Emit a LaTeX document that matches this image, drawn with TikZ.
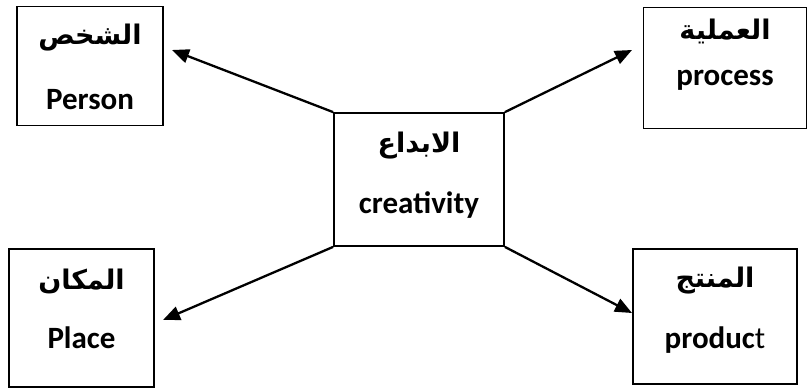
\documentclass[tikz,border=0pt]{standalone}
\usepackage{fontspec}
\setmainfont{Carlito}
\newfontfamily\arabicfont[Script=Arabic]{DejaVu Sans}
\TeXXeTstate=1
\usetikzlibrary{arrows.meta}
\begin{document}
\begin{tikzpicture}[x=1pt,y=-1pt,
  box/.style={draw,line width=1.8pt,inner sep=0pt},
  ar/.style={font=\arabicfont\bfseries\fontsize{27}{32}\selectfont},
  en/.style={font=\bfseries\fontsize{31}{36}\selectfont},
  conn/.style={line width=2.3pt,-{Triangle[length=17pt,width=14pt]}}]
\useasboundingbox (0,0) rectangle (808,389);
% boxes
\node[box,minimum width=146pt,minimum height=119pt] (person) at (90,66) {};
\node[box,minimum width=163pt,minimum height=121pt] (process) at (725,68) {};
\node[box,minimum width=145pt,minimum height=138pt] (place) at (81.5,318) {};
\node[box,minimum width=164pt,minimum height=135pt] (product) at (715,316.5) {};
\node[box,minimum width=170pt,minimum height=133pt] (center) at (419,179.5) {};
% texts
\node[ar] (tPersonA) at (90,38) {\beginR الشخص\endR};
\node[en] (tPersonE) at (90,100) {Person};
\node[ar] (tProcessA) at (725,31) {\beginR العملية\endR};
\node[en] (tProcessE) at (725,80) {process};
\node[ar] (tPlaceA) at (81.5,281) {\beginR المكان\endR};
\node[en] (tPlaceE) at (81.5,338) {Place};
\node[ar] (tProductA) at (715,281) {\beginR المنتج\endR};
\node[en] (tProductE) at (715,340) {produc\mdseries t};
\node[ar] (tCenterA) at (419,146) {\beginR الابداع\endR};
\node[en] (tCenterE) at (419,205) {creativity};
% arrow ends
\coordinate (pA) at (172,50);
\coordinate (pB) at (632,50);
\coordinate (pC) at (163,320);
\coordinate (pD) at (632,313);
\draw[conn] (center.north west) -- (pA);
\draw[conn] (center.north east) -- (pB);
\draw[conn] (center.south west) -- (pC);
\draw[conn] (center.south east) -- (pD);
\end{tikzpicture}
\end{document}
